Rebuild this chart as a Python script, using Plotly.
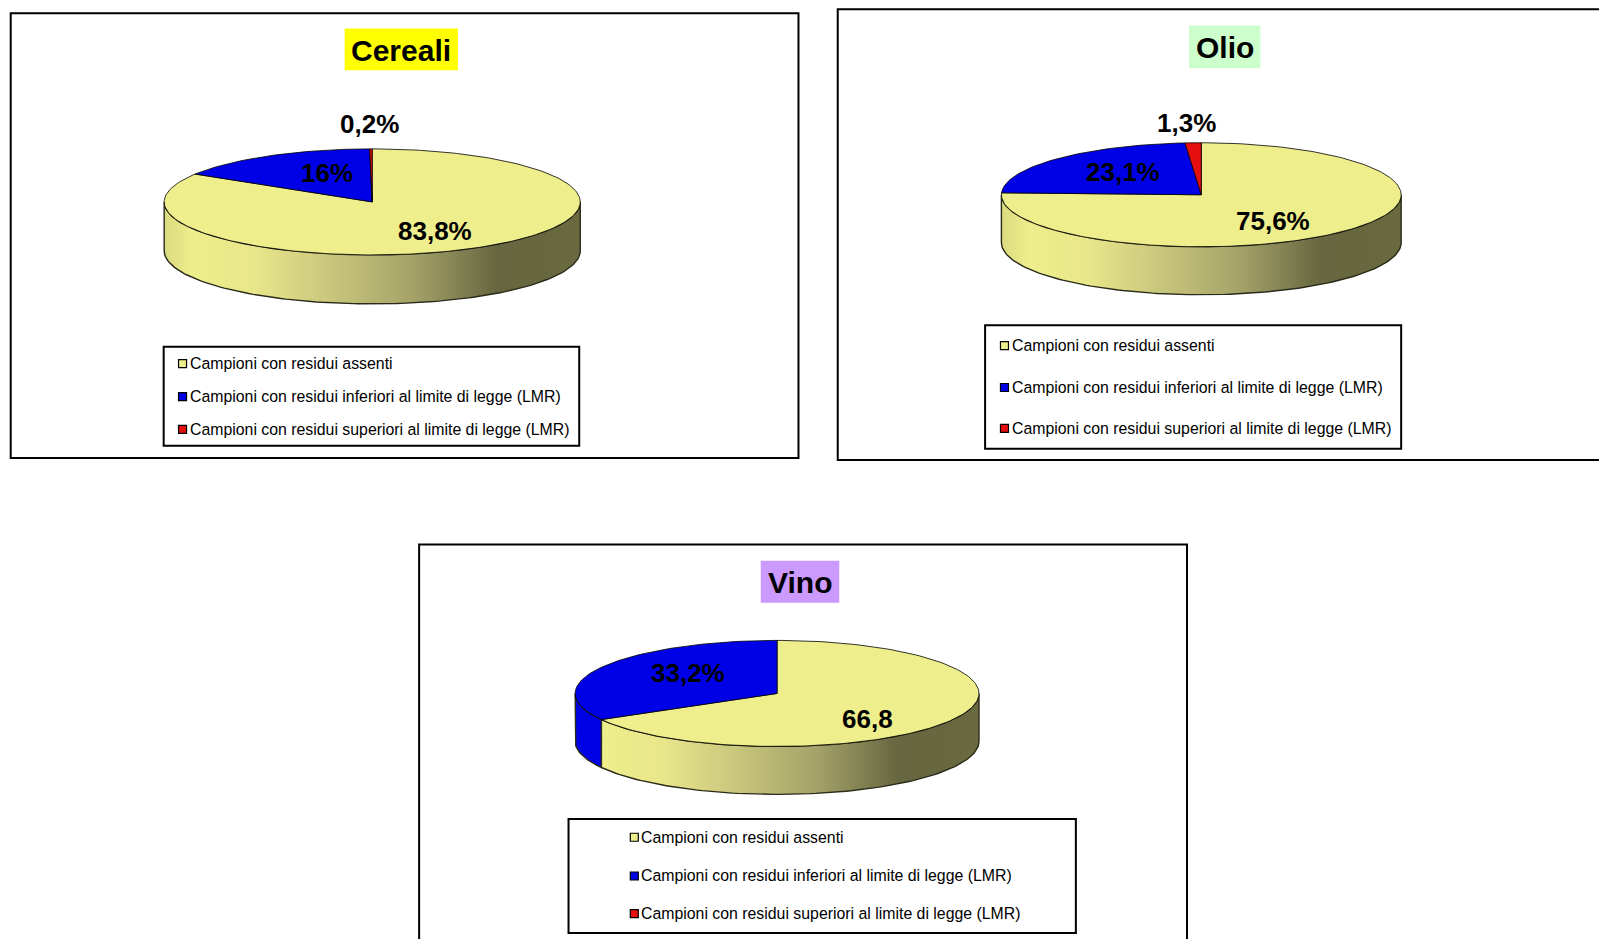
import math
import plotly.graph_objects as go

W, H = 1599, 939
S = W / 1568  # layout measurements below were taken on a 1568-wide view

categories = [
    "Campioni con residui assenti",
    "Campioni con residui inferiori al limite di legge (LMR)",
    "Campioni con residui superiori al limite di legge (LMR)",
]
cereali_values = [83.8, 16.0, 0.2]
olio_values = [75.6, 23.1, 1.3]
vino_values = [66.8, 33.2, 0.0]
cereali_labels = ["83,8%", "16%", "0,2%"]
olio_labels = ["75,6%", "23,1%", "1,3%"]
vino_labels = ["66,8", "33,2%", ""]
titles = ["Cereali", "Olio", "Vino"]

slice_colors = ["#EEEE8C", "#0000E6", "#E60F0F"]
side_dark = {1: "#0000E6", 2: "#E60F0F"}
gradient = [
    [0.0, "#DADA80"], [0.07, "#EEEE8C"], [0.22, "#E8E68A"], [0.4, "#C8C67C"],
    [0.6, "#A4A268"], [0.8, "#666640"], [1.0, "#6A6A40"],
]

panels = [
    dict(title=titles[0], values=cereali_values, labels=cereali_labels, title_bg="#FFFF00",
         box=(10.5, 13, 783, 449), title_box=(338, 28, 449, 69),
         pie=(365, 198, 204, 52, 48),
         label_xy=[(427, 227), (321, 170), (362, 122)],
         legend_box=(160.5, 340, 568, 437), legend_rows=[356.5, 389, 421], swatch_x=179, text_x=185.5),
    dict(title=titles[1], values=olio_values, labels=olio_labels, title_bg="#CCFFCC",
         box=(821.5, 9, 1640, 451), title_box=(1166, 25, 1236, 67),
         pie=(1178, 191, 196, 51, 47),
         label_xy=[(1248, 217), (1101, 169), (1163.5, 121)],
         legend_box=(966, 319, 1374, 440), legend_rows=[339, 380, 420], swatch_x=985, text_x=991),
    dict(title=titles[2], values=vino_values, labels=vino_labels, title_bg="#CC99FF",
         box=(411, 534, 1164, 980), title_box=(746, 550, 823, 591),
         pie=(762, 680, 198, 52, 47),
         label_xy=[(851, 705), (675, 660), (0, 0)],
         legend_box=(557.5, 803, 1055, 915), legend_rows=[821, 859, 896], swatch_x=622, text_x=627.5),
]


def arc(cx, cy, rx, ry, a0, a1, dy=0.0):
    n = max(2, int(abs(a1 - a0) / 1.5) + 2)
    xs, ys = [], []
    for i in range(n):
        t = math.radians(a0 + (a1 - a0) * i / (n - 1))
        xs.append(cx + rx * math.sin(t))
        ys.append(cy - ry * math.cos(t) + dy)
    return xs, ys


fig = go.Figure()
shapes, annotations = [], []

for p in panels:
    x0, y0, x1, y1 = [v * S for v in p["box"]]
    shapes.append(dict(type="rect", xref="x", yref="y", x0=x0, y0=y0, x1=x1, y1=y1,
                       line=dict(color="#000000", width=2), fillcolor="rgba(0,0,0,0)", layer="below"))

    cx, cy, rx, ry, depth = [v * S for v in p["pie"]]
    total = sum(p["values"])
    edges = [0.0]
    for v in p["values"]:
        edges.append(edges[-1] + v / total * 360.0)

    # front wall of the disc
    for i in range(len(p["values"])):
        a0, a1 = max(edges[i], 90.0), min(edges[i + 1], 270.0)
        if a1 <= a0:
            continue
        tx, ty = arc(cx, cy, rx, ry, a0, a1)
        bx, by = arc(cx, cy, rx, ry, a1, a0, depth)
        trace = dict(x=tx + bx + [tx[0]], y=ty + by + [ty[0]], mode="lines", fill="toself",
                     line=dict(color="#2A2A1A", width=1.4), hoverinfo="skip", showlegend=False)
        if i == 0:
            trace["fillgradient"] = dict(type="horizontal", colorscale=gradient,
                                         start=cx - rx, stop=cx + rx)
        else:
            trace["fillcolor"] = side_dark[i]
        fig.add_trace(go.Scatter(**trace))

    # top face
    for i, v in enumerate(p["values"]):
        if v <= 0:
            continue
        ax, ay = arc(cx, cy, rx, ry, edges[i], edges[i + 1])
        fig.add_trace(go.Scatter(x=[cx] + ax + [cx], y=[cy] + ay + [cy], mode="lines", fill="toself",
                                 fillcolor=slice_colors[i], line=dict(color="#000000", width=0.8),
                                 name=categories[i], showlegend=False, hoverinfo="name"))

    # value labels
    for lab, (lx, ly) in zip(p["labels"], p["label_xy"]):
        if lab:
            annotations.append(dict(x=lx * S, y=ly * S, text=lab, showarrow=False, xanchor="center",
                                    yanchor="middle", xref="x", yref="y",
                                    font=dict(family="Liberation Sans", size=26, color="#000000", weight="bold")))

    # title
    tx0, ty0, tx1, ty1 = [v * S for v in p["title_box"]]
    shapes.append(dict(type="rect", xref="x", yref="y", x0=tx0, y0=ty0, x1=tx1, y1=ty1,
                       line=dict(width=0), fillcolor=p["title_bg"], layer="below"))
    annotations.append(dict(x=(tx0 + tx1) / 2, y=(ty0 + ty1) / 2 + 1, text=p["title"], showarrow=False,
                            xanchor="center", yanchor="middle", xref="x", yref="y",
                            font=dict(family="Liberation Sans", size=30, color="#000000", weight="bold")))

    # legend
    lx0, ly0, lx1, ly1 = [v * S for v in p["legend_box"]]
    shapes.append(dict(type="rect", xref="x", yref="y", x0=lx0, y0=ly0, x1=lx1, y1=ly1,
                       line=dict(color="#000000", width=2), fillcolor="#FFFFFF", layer="below"))
    rows = [r * S for r in p["legend_rows"]]
    fig.add_trace(go.Scatter(x=[p["swatch_x"] * S] * 3, y=rows, mode="markers", showlegend=False,
                             hoverinfo="skip",
                             marker=dict(symbol="square", size=8, color=slice_colors,
                                         line=dict(color="#000000", width=1.2))))
    for name, ry_ in zip(categories, rows):
        annotations.append(dict(x=p["text_x"] * S, y=ry_, text=name, showarrow=False, xanchor="left",
                                yanchor="middle", xref="x", yref="y", borderpad=0,
                                font=dict(family="Liberation Sans", size=15.85, color="#000000")))

fig.update_layout(
    width=W, height=H, margin=dict(l=0, r=0, t=0, b=0),
    paper_bgcolor="#FFFFFF", plot_bgcolor="#FFFFFF", showlegend=False,
    xaxis=dict(range=[0, W], visible=False, fixedrange=True),
    yaxis=dict(range=[H, 0], visible=False, fixedrange=True),
    shapes=shapes, annotations=annotations,
)
fig.write_html("out.html", config={"displayModeBar": False},
               post_script="document.body.style.margin='0';document.body.style.overflow='hidden';")
